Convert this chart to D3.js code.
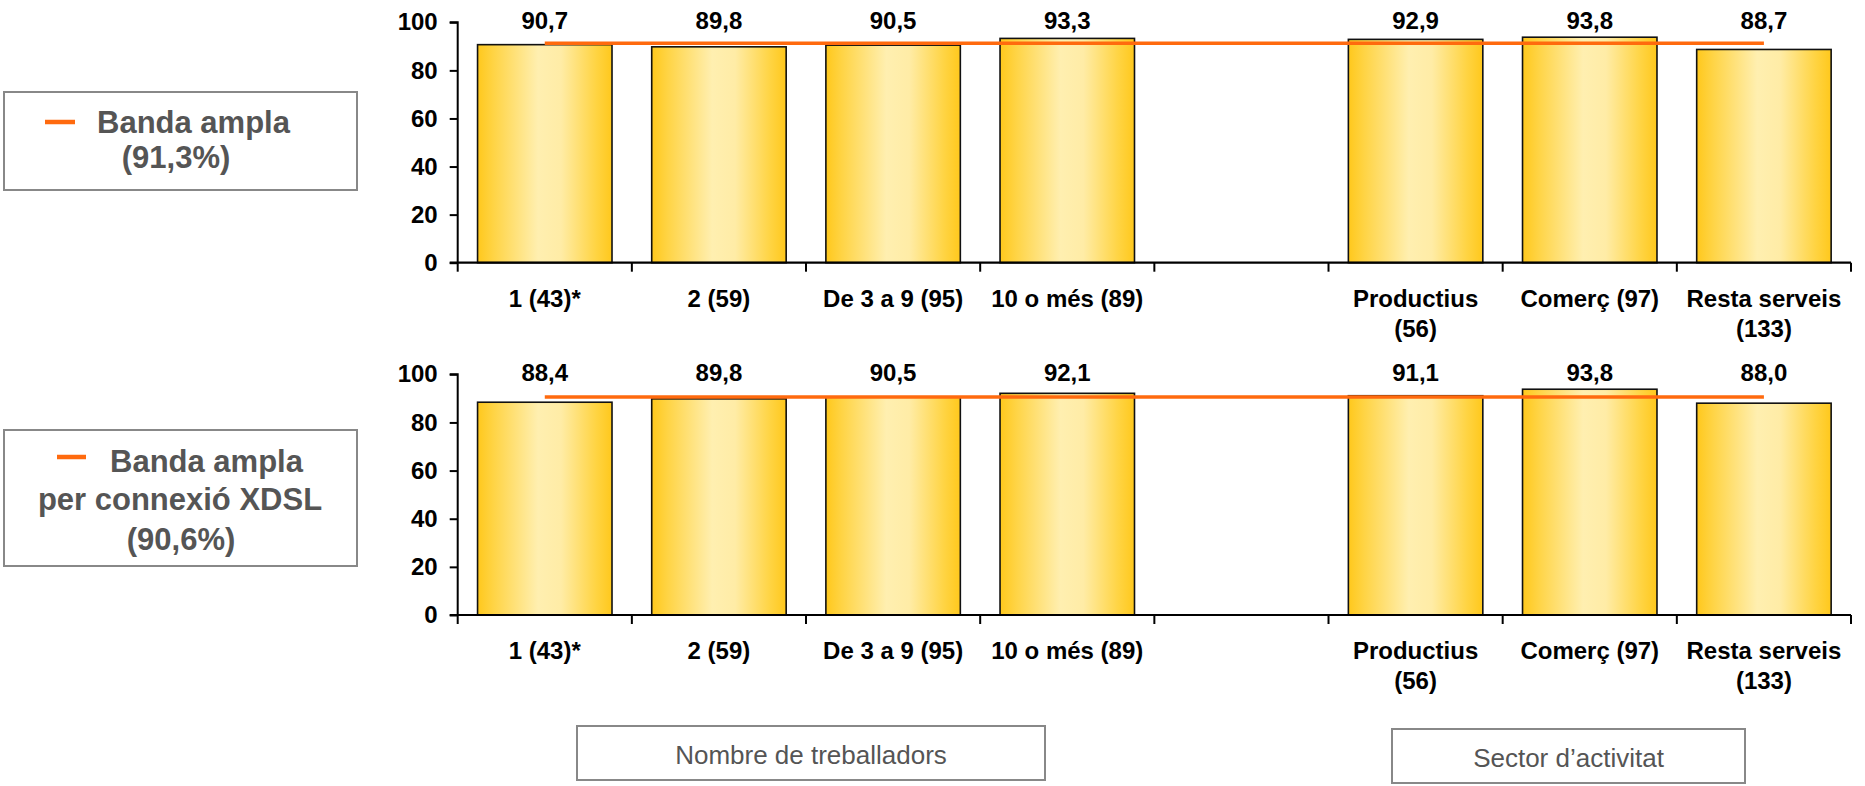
<!DOCTYPE html>
<html>
<head>
<meta charset="utf-8">
<script src="https://cdn.jsdelivr.net/npm/d3@7"></script>
<style>
  html, body { margin: 0; padding: 0; background: #fff; }
  svg { display: block; font-family: "Liberation Sans", Arial, sans-serif; }
</style>
</head>
<body>
<svg id="chart" width="1865" height="786"></svg>
<script>
// ---------- DATA ----------
const categories = ["c1", "c2", "c3", "c4", "gap", "c5", "c6", "c7"];
const categoryLabels = [
  ["1 (43)*"], ["2 (59)"], ["De 3 a 9 (95)"], ["10 o més (89)"], [],
  ["Productius", "(56)"], ["Comerç (97)"], ["Resta serveis", "(133)"]
];
const valuesBroadband = [90.7, 89.8, 90.5, 93.3, null, 92.9, 93.8, 88.7];
const valuesXDSL      = [88.4, 89.8, 90.5, 92.1, null, 91.1, 93.8, 88.0];
const referenceBroadband = 91.3;
const referenceXDSL = 90.6;
const yTicks = [0, 20, 40, 60, 80, 100];
const legendBroadband = ["Banda ampla", "(91,3%)"];
const legendXDSL = ["Banda ampla", "per connexió XDSL", "(90,6%)"];
const groupLabels = ["Nombre de treballadors", "Sector d\u2019activitat"];

// ---------- SETUP ----------
const svg = d3.select("#chart");
const defs = svg.append("defs");
const grad = defs.append("linearGradient").attr("id", "barGrad")
  .attr("x1", "0").attr("x2", "1").attr("y1", "0").attr("y2", "0");
[["0%", "#ffc81c"], ["12%", "#ffd445"], ["45%", "#ffefb0"], ["62%", "#ffeca6"], ["88%", "#ffd443"], ["100%", "#ffc81c"]]
  .forEach(([o, c]) => grad.append("stop").attr("offset", o).attr("stop-color", c));

const xLeft = 457.7, xRight = 1851;
const x = d3.scaleBand().domain(categories).range([xLeft, xRight])
  .paddingInner(0.228).paddingOuter(0.114);

function panel(values, refValue, yTop, yBottom) {
  const y = d3.scaleLinear().domain([0, 100]).range([yBottom, yTop]);
  const g = svg.append("g");

  // bars
  const data = categories.map((c, i) => ({ c, v: values[i], labels: categoryLabels[i] }));
  g.selectAll("rect.bar").data(data.filter(d => d.v != null)).enter().append("rect")
    .attr("class", "bar")
    .attr("x", d => x(d.c))
    .attr("y", d => y(d.v))
    .attr("width", x.bandwidth())
    .attr("height", d => y(0) - y(d.v))
    .attr("fill", "url(#barGrad)")
    .attr("stroke", "#111")
    .attr("stroke-width", 1.6);

  // y axis
  const yAxis = d3.axisLeft(y).tickValues(yTicks).tickSize(8).tickPadding(12);
  const ya = g.append("g").attr("transform", `translate(${xLeft},0)`).call(yAxis);
  ya.select(".domain").attr("stroke", "#000").attr("stroke-width", 2)
    .attr("d", `M-8,${y(100)}H0V${y(0)}`);
  ya.selectAll(".tick line").attr("stroke", "#000").attr("stroke-width", 2);
  ya.selectAll(".tick text").attr("fill", "#000").attr("font-size", 24)
    .attr("font-weight", "bold").attr("font-family", '"Liberation Sans", Arial, sans-serif');

  // x axis line + boundary ticks
  g.append("line").attr("x1", xLeft - 8).attr("x2", xRight)
    .attr("y1", y(0)).attr("y2", y(0)).attr("stroke", "#000").attr("stroke-width", 2.2);
  const bounds = categories.map(c => x(c) - x.step() * x.paddingOuter() * 0 - (x.step() - x.bandwidth()) / 2);
  bounds.push(xRight);
  g.selectAll("line.xt").data(bounds).enter().append("line").attr("class", "xt")
    .attr("x1", d => d).attr("x2", d => d)
    .attr("y1", y(0)).attr("y2", y(0) + 9)
    .attr("stroke", "#000").attr("stroke-width", 2);

  // category labels
  const lab = g.selectAll("text.cat").data(data).enter().append("text").attr("class", "cat")
    .attr("x", d => x(d.c) + x.bandwidth() / 2)
    .attr("y", y(0) + 44)
    .attr("text-anchor", "middle").attr("font-size", 24).attr("font-weight", "bold").attr("fill", "#000");
  lab.selectAll("tspan").data(d => d.labels.map((t, i) => ({ t, i, xx: x(d.c) + x.bandwidth() / 2 })))
    .enter().append("tspan")
    .attr("x", d => d.xx).attr("dy", d => d.i === 0 ? 0 : 30).text(d => d.t);

  // value labels (fixed at top)
  g.selectAll("text.val").data(data.filter(d => d.v != null)).enter().append("text").attr("class", "val")
    .attr("x", d => x(d.c) + x.bandwidth() / 2)
    .attr("y", y(100) + 7)
    .attr("text-anchor", "middle").attr("font-size", 24).attr("font-weight", "bold").attr("fill", "#000")
    .text(d => d3.format(".1f")(d.v).replace(".", ","));

  // reference line
  const first = categories[0], last = categories[categories.length - 1];
  g.append("line")
    .attr("x1", x(first) + x.bandwidth() / 2).attr("x2", x(last) + x.bandwidth() / 2)
    .attr("y1", y(refValue)).attr("y2", y(refValue))
    .attr("stroke", "#ff6a0e").attr("stroke-width", 3.5);
}

panel(valuesBroadband, referenceBroadband, 22.3, 262.7);
panel(valuesXDSL, referenceXDSL, 374.3, 615);

// ---------- LEGEND BOXES ----------
function legendBox(lines, box, dash, lineXs, baselines) {
  const g = svg.append("g");
  g.append("rect").attr("x", box[0]).attr("y", box[1]).attr("width", box[2]).attr("height", box[3])
    .attr("fill", "#fff").attr("stroke", "#888").attr("stroke-width", 2);
  g.append("line").attr("x1", dash[0]).attr("x2", dash[1]).attr("y1", dash[2]).attr("y2", dash[2])
    .attr("stroke", "#ff6a0e").attr("stroke-width", 4.5);
  lines.forEach((t, i) => {
    g.append("text").attr("x", lineXs[i][0]).attr("y", baselines[i])
      .attr("text-anchor", lineXs[i][1]).attr("font-size", 31).attr("font-weight", "bold")
      .attr("fill", "#555").text(t);
  });
}
legendBox(legendBroadband, [4, 92, 353, 98], [45, 75, 122],
  [[97, "start"], [176, "middle"]], [133, 168]);
legendBox(legendXDSL, [4, 430, 353, 136], [57, 86, 457],
  [[110, "start"], [180, "middle"], [181, "middle"]], [472, 510, 550]);

// ---------- GROUP LABEL BOXES ----------
const groupBoxes = [[577, 726, 468, 54], [1392, 729, 353, 54]];
groupLabels.forEach((t, i) => {
  const b = groupBoxes[i];
  svg.append("rect").attr("x", b[0]).attr("y", b[1]).attr("width", b[2]).attr("height", b[3])
    .attr("fill", "#fff").attr("stroke", "#888").attr("stroke-width", 2);
  svg.append("text").attr("x", b[0] + b[2] / 2).attr("y", b[1] + 37.5)
    .attr("text-anchor", "middle").attr("font-size", 26).attr("fill", "#555").text(t);
});
</script>
</body>
</html>
